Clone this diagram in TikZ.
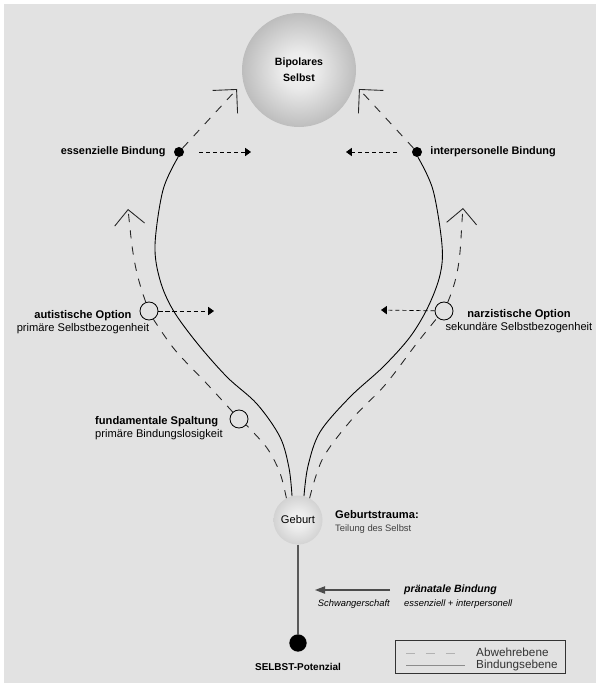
\documentclass[tikz,border=0pt]{standalone}
\usepackage{fontspec}
\setmainfont{Liberation Sans}
\usepackage{xcolor}
\usepackage{tikz}
\usetikzlibrary{arrows.meta,calc,positioning,shapes.geometric}
\definecolor{bggrey}{RGB}{226,226,226}
\pgfdeclareradialshading{selbstball}{\pgfpoint{0bp}{0bp}}{color(0bp)=(white!95!black); color(8bp)=(white!92!black); color(50bp)=(black!52); color(100bp)=(black!52)}
\pgfdeclareradialshading{geburtball}{\pgfpoint{0bp}{0bp}}{color(0bp)=(white!96!black); color(10bp)=(white!92!black); color(50bp)=(black!33); color(100bp)=(black!33)}

\begin{document}
\begin{tikzpicture}[
    x=0.03cm, y=-0.03cm,
    bind/.style={draw=black, line width=0.75pt},
    abwehr/.style={draw=black!85, line width=0.75pt, dash pattern=on 7pt off 7pt},
    hint/.style={draw=black, line width=0.6pt, dash pattern=on 3.5pt off 2.5pt, -{Triangle[length=5pt, width=7pt]}},
    bigtip/.style={-{Straight Barb[length=0.51cm, width=1.02cm]}},
    midtip/.style={-{Straight Barb[length=0.45cm, width=0.9cm]}},
    dot/.style={circle, fill=black, inner sep=0, minimum size=0.3cm},
    option/.style={circle, draw=black, fill=bggrey, line width=0.7pt, inner sep=0, minimum size=0.54cm},
    lbl/.style={inner sep=0, font=\fontsize{9.3}{11}\selectfont\bfseries},
    sub/.style={inner sep=0, align=center, font=\fontsize{9.5}{11.5}\selectfont},
    small/.style={inner sep=0, font=\fontsize{8}{10}\selectfont\itshape},
    legtext/.style={inner sep=0, anchor=west, text=black!80, font=\fontsize{10}{12}\selectfont}]

\fill[white] (0,0) rectangle (596,683);
\fill[bggrey] (4,4) rectangle (596,683);
\useasboundingbox (0,0) rectangle (596,683);

\node[circle, shading=selbstball, minimum size=3.42cm, inner sep=0, align=center,
      font=\fontsize{9}{13.5}\selectfont\bfseries] (bipolar) at (299,70) {Bipolares\\Selbst};
\node[circle, shading=geburtball, minimum size=1.47cm, inner sep=0,
      font=\fontsize{9.5}{11}\selectfont] (geburt) at (298,520) {Geburt};
\node[dot, minimum size=0.52cm] (potenzial) at (298,643) {};
\node[lbl, below=0.33cm of potenzial, font=\fontsize{8.5}{10}\selectfont\bfseries] (potenzialL) {SELBST-Potenzial};

\node[dot] (ess) at (179,152) {};
\node[dot] (inter) at (417,152) {};
\node[lbl, left=0.24cm of ess] (essL) {essenzielle Bindung};
\node[lbl, right=0.24cm of inter] (interL) {interpersonelle Bindung};

\node[option] (aut) at (149,311) {};
\node[option] (fund) at (239,419) {};
\node[option] (narz) at (444,311) {};

\node[sub] (autL) at (83,322) {\textbf{autistische Option}\\primäre Selbstbezogenheit};
\node[sub, align=left, anchor=west] (fundL) at (95,428) {\textbf{fundamentale Spaltung}\\primäre Bindungslosigkeit};
\node[sub] (narzL) at (519,321) {\textbf{narzistische Option}\\sekundäre Selbstbezogenheit};
\node[sub, align=left, anchor=west] (geburtL) at (335,522) {\textbf{Geburtstrauma:}\\{\fontsize{8}{10}\selectfont\color{black!75}Teilung des Selbst}};

\coordinate (essTip) at (237,89);
\coordinate (interTip) at (359,89);
\coordinate (autTip) at (128,209);
\coordinate (narzTip) at (463,208);
\coordinate (essH1) at (199,152);
\coordinate (essH2) at (251,152);
\coordinate (interH1) at (397,152);
\coordinate (interH2) at (346,152);
\coordinate (autH) at (214,311);
\coordinate (narzH) at (381,310);

\path[bind] plot[smooth, tension=0.55] coordinates {(ess.-100) (163,190) (155,245) (160,280) (173,310) (197,343) (227,377) (257,404) (280,437) (289,468) (geburt.104)};
\path[bind] plot[smooth, tension=0.55] coordinates {(inter.-80) (433,190) (442,245) (440,275) (428,307) (410,337) (383,367) (350,397) (320,432) (308,466) (geburt.76)};

\path[abwehr, bigtip] (ess) -- (essTip);
\path[abwehr, bigtip] (inter) -- (interTip);
\path[abwehr] plot[smooth, tension=0.55] coordinates {(geburt.118) (280,473) (267,448) (fund.-40)};
\path[abwehr] plot[smooth, tension=0.55] coordinates {(fund.132) (208,385) (175,350) (aut.-62)};
\path[abwehr, midtip] (aut.110) to[out=110, in=-84] (autTip);
\path[abwehr] plot[smooth, tension=0.55] coordinates {(geburt.62) (323,458) (353,418) (385,385) (417,343) (narz.-135)};
\path[abwehr, midtip] (narz.67) to[out=67, in=-95] (narzTip);

\path[hint] (essH1) -- (essH2);
\path[hint] (interH1) -- (interH2);
\path[hint] (aut) -- (autH);
\path[hint] (narz) -- (narzH);

\path[draw=black!65, line width=1.1pt] (geburt) -- (potenzial);

\coordinate (praeA) at (390,590);
\coordinate (praeB) at (315,590);
\path[draw=black!70, line width=1pt, -{Triangle[length=0.3cm, width=0.22cm]}] (praeA) -- (praeB);
\node[inner sep=0, anchor=west, font=\fontsize{9}{11}\selectfont\bfseries\itshape] (praeL) at (404,590) {pränatale Bindung};
\node[small, anchor=west] (praeS) at (404,604) {essenziell + interpersonell};
\node[small, anchor=east] (schwanger) at (390,604) {Schwangerschaft};

\node[draw=black!80, line width=0.6pt, minimum width=5.1cm, minimum height=0.99cm, inner sep=0] (legend) at (480,656.5) {};
\path[draw=black!30, line width=0.8pt, dash pattern=on 8pt off 9pt] (406,653) -- (465,653);
\path[draw=black!45, line width=0.8pt] (406,665) -- (465,665);
\node[legtext] (legA) at (476,652) {Abwehrebene};
\node[legtext] (legB) at (476,665) {Bindungsebene};

\end{tikzpicture}
\end{document}
